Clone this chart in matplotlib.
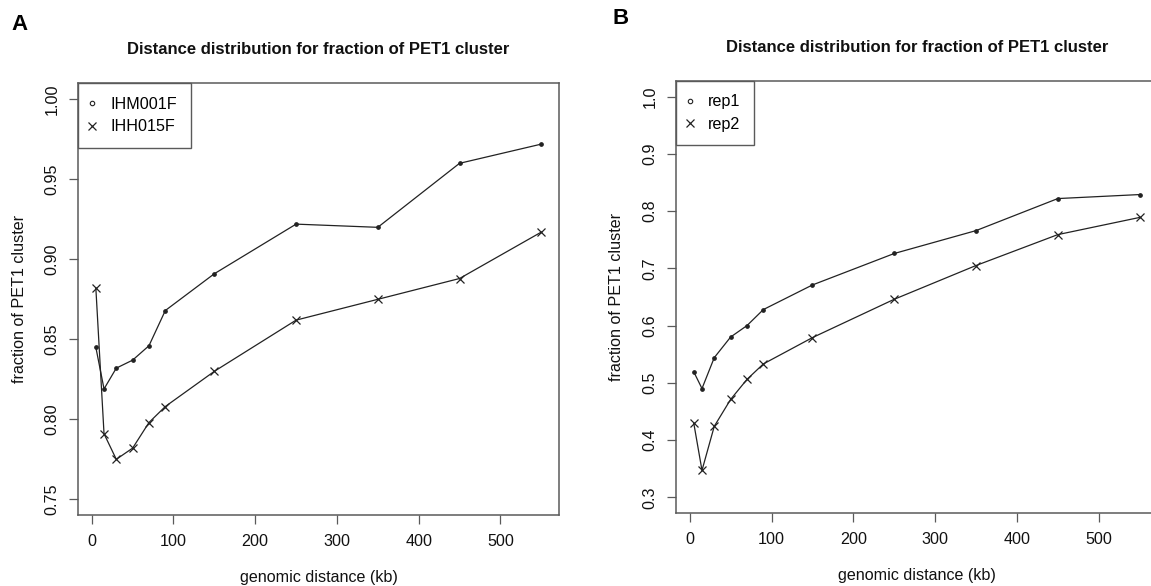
import numpy as np
import matplotlib
matplotlib.use("Agg")
import matplotlib.pyplot as plt
from matplotlib.lines import Line2D

plt.rcParams['font.family'] = ['Liberation Sans', 'DejaVu Sans']

# genomic distance (kb), same bins in both panels
dist = [5, 15, 30, 50, 70, 90, 150, 250, 350, 450, 550]

# panel A
ihm001f = [0.845, 0.819, 0.832, 0.837, 0.846, 0.868, 0.891, 0.922, 0.920, 0.960, 0.972]
ihh015f = [0.882, 0.791, 0.775, 0.782, 0.798, 0.808, 0.830, 0.862, 0.875, 0.888, 0.917]
ticks_a = [0.75, 0.80, 0.85, 0.90, 0.95, 1.00]

# panel B
rep1 = [0.519, 0.490, 0.544, 0.580, 0.600, 0.628, 0.671, 0.726, 0.766, 0.822, 0.829]
rep2 = [0.429, 0.347, 0.424, 0.471, 0.506, 0.533, 0.579, 0.646, 0.705, 0.759, 0.789]
ticks_b = [0.3, 0.4, 0.5, 0.6, 0.7, 0.8, 0.9, 1.0]

xticks = [0, 100, 200, 300, 400, 500]

title = "Distance distribution for fraction of PET1 cluster"
line_col = '#222222'
frame_col = '#5a5a5a'
fs = 11.6


def rlim(lo, hi):
    # R style 4% extension of the range
    d = (hi - lo) * 0.04
    return lo - d, hi + d


def panel(ax, y1, y2, names, yticks, fmt):
    ax.plot(dist, y1, color=line_col, lw=0.9, marker='o', ms=2.4,
            mfc=line_col, mec=line_col)
    ax.plot(dist, y2, color=line_col, lw=0.9, marker='x', ms=5.5, mew=0.9)
    ax.set_xlim(*rlim(min(dist), max(dist)))
    ax.set_ylim(*rlim(yticks[0], yticks[-1]))
    ax.set_xticks(xticks)
    ax.set_yticks(yticks)
    ax.set_yticklabels([fmt.format(v) for v in yticks], rotation=90, va='center')
    ax.tick_params(axis='both', length=6.3, width=0.9, color=frame_col,
                   labelsize=fs, labelcolor='#111111', pad=7)
    for s in ax.spines.values():
        s.set_color(frame_col)
        s.set_linewidth(1.1)
    ax.set_title(title, fontsize=12, fontweight='bold', pad=21, color='#111111')
    ax.set_xlabel("genomic distance (kb)", fontsize=fs, labelpad=15, color='#111111')
    ax.set_ylabel("fraction of PET1 cluster", fontsize=fs, labelpad=13, color='#111111')
    handles = [
        Line2D([], [], ls='none', marker='o', ms=3.2, mfc='white', mec=line_col, mew=0.8),
        Line2D([], [], ls='none', marker='x', ms=5.5, mew=0.9, color=line_col),
    ]
    leg = ax.legend(handles, names, loc='upper left', borderaxespad=0,
                    fancybox=False, framealpha=1, edgecolor=frame_col,
                    fontsize=fs, borderpad=0.85, handlelength=0.0,
                    handletextpad=1.15, labelspacing=0.46, numpoints=1)
    leg.get_frame().set_linewidth(1.0)


fig = plt.figure(figsize=(11.51, 5.86), dpi=100)
ax1 = fig.add_axes([0.0678, 0.1206, 0.4179, 0.7372])
ax2 = fig.add_axes([0.5873, 0.1241, 0.4183, 0.7382])

panel(ax1, ihm001f, ihh015f, ["IHM001F", "IHH015F"], ticks_a, "{:.2f}")
panel(ax2, rep1, rep2, ["rep1", "rep2"], ticks_b, "{:.1f}")

fig.text(20 / 1151, 1 - 25 / 586, "A", fontsize=16, fontweight='bold', ha='center', va='center')
fig.text(621 / 1151, 1 - 19 / 586, "B", fontsize=16, fontweight='bold', ha='center', va='center')

fig.savefig("out.png", dpi=100)
